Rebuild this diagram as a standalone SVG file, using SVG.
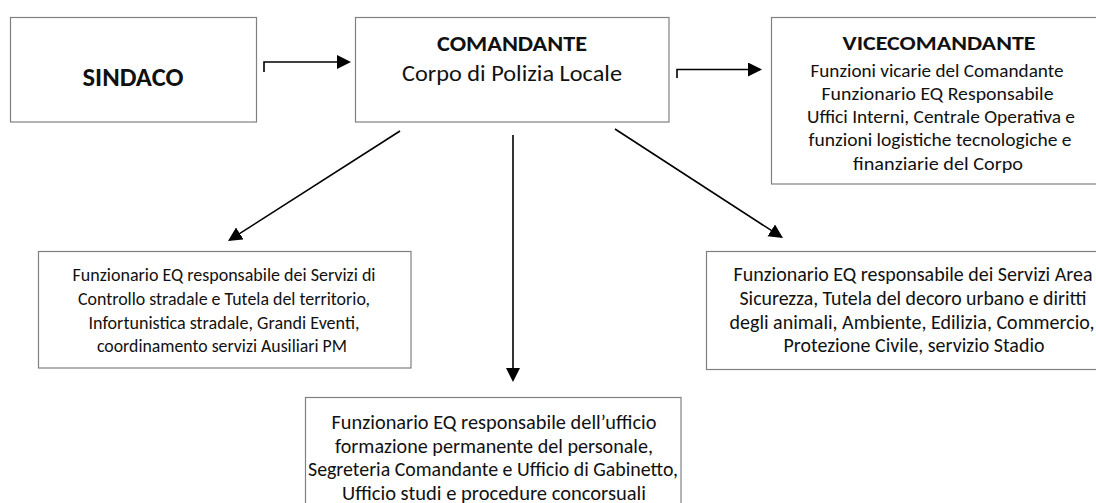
<svg xmlns="http://www.w3.org/2000/svg" width="1096" height="503" viewBox="0 0 1096 503">
  <style>
    .box { fill: #ffffff; stroke: #808080; stroke-width: 1.2; }
    .t { font-family: Carlito, Lato, "Liberation Sans", sans-serif; fill: #111111; text-anchor: middle; }
    .b { font-weight: bold; }
    .con { stroke: #000000; stroke-width: 1.6; fill: none; }
  </style>
  <defs>
    <marker id="ah" markerUnits="userSpaceOnUse" markerWidth="15" markerHeight="15" refX="12" refY="7" orient="auto">
      <path d="M0,0 L14,7 L0,14 z" fill="#000000"/>
    </marker>
  </defs>
  <rect width="1096" height="503" fill="#ffffff"/>

  <g id="sindaco">
    <rect class="box" x="10.5" y="17.5" width="246" height="104.5"/>
    <text class="t b" x="133" y="85.5" font-size="26" textLength="101" lengthAdjust="spacingAndGlyphs">SINDACO</text>
  </g>

  <g id="comandante">
    <rect class="box" x="355.5" y="17.5" width="313.5" height="104.5"/>
    <text class="t b" x="512" y="51" font-size="23" textLength="150" lengthAdjust="spacingAndGlyphs">COMANDANTE</text>
    <text class="t" x="512" y="81" font-size="23" textLength="220" lengthAdjust="spacingAndGlyphs">Corpo di Polizia Locale</text>
  </g>

  <g id="vicecomandante">
    <rect class="box" x="771.5" y="17.5" width="340" height="166.5"/>
    <text class="t b" x="939" y="50" font-size="20.5" textLength="193" lengthAdjust="spacingAndGlyphs">VICECOMANDANTE</text>
    <text class="t" x="937" y="76.5" font-size="19" textLength="253" lengthAdjust="spacingAndGlyphs">Funzioni vicarie del Comandante</text>
    <text class="t" x="937.5" y="99.5" font-size="19" textLength="232" lengthAdjust="spacingAndGlyphs">Funzionario EQ Responsabile</text>
    <text class="t" x="941" y="123" font-size="19" textLength="268" lengthAdjust="spacingAndGlyphs">Uffici Interni, Centrale Operativa e</text>
    <text class="t" x="940" y="146" font-size="19" textLength="263" lengthAdjust="spacingAndGlyphs">funzioni logistiche tecnologiche e</text>
    <text class="t" x="938" y="169.5" font-size="19" textLength="170" lengthAdjust="spacingAndGlyphs">finanziarie del Corpo</text>
  </g>

  <g id="servizi-controllo">
    <rect class="box" x="38.5" y="251.5" width="372.5" height="116.5"/>
    <text class="t" x="224" y="281" font-size="18.5" textLength="303" lengthAdjust="spacingAndGlyphs">Funzionario EQ responsabile dei Servizi di</text>
    <text class="t" x="224" y="305" font-size="18.5" textLength="292" lengthAdjust="spacingAndGlyphs">Controllo stradale e Tutela del territorio,</text>
    <text class="t" x="224" y="328.5" font-size="18.5" textLength="271" lengthAdjust="spacingAndGlyphs">Infortunistica stradale, Grandi Eventi,</text>
    <text class="t" x="222" y="352" font-size="18.5" textLength="250" lengthAdjust="spacingAndGlyphs">coordinamento servizi Ausiliari PM</text>
  </g>

  <g id="servizi-sicurezza">
    <rect class="box" x="706.5" y="251.5" width="420" height="118"/>
    <text class="t" x="913" y="280.5" font-size="19.5" textLength="359" lengthAdjust="spacingAndGlyphs">Funzionario EQ responsabile dei Servizi Area</text>
    <text class="t" x="913" y="305" font-size="19.5" textLength="347" lengthAdjust="spacingAndGlyphs">Sicurezza, Tutela del decoro urbano e diritti</text>
    <text class="t" x="912" y="328.5" font-size="19.5" textLength="365" lengthAdjust="spacingAndGlyphs">degli animali, Ambiente, Edilizia, Commercio,</text>
    <text class="t" x="914" y="352" font-size="19.5" textLength="261" lengthAdjust="spacingAndGlyphs">Protezione Civile, servizio Stadio</text>
  </g>

  <g id="ufficio-formazione">
    <rect class="box" x="305.5" y="397.5" width="375.5" height="130"/>
    <text class="t" x="494" y="428.5" font-size="19.5" textLength="325" lengthAdjust="spacingAndGlyphs">Funzionario EQ responsabile dell’ufficio</text>
    <text class="t" x="494" y="452.5" font-size="19.5" textLength="318" lengthAdjust="spacingAndGlyphs">formazione permanente del personale,</text>
    <text class="t" x="493" y="476" font-size="19.5" textLength="370" lengthAdjust="spacingAndGlyphs">Segreteria Comandante e Ufficio di Gabinetto,</text>
    <text class="t" x="494" y="499.5" font-size="19.5" textLength="304" lengthAdjust="spacingAndGlyphs">Ufficio studi e procedure concorsuali</text>
  </g>

  <g id="connectors">
    <path class="con" d="M264,72 V62 H349" marker-end="url(#ah)"/>
    <path class="con" d="M677,78 V69.5 H760" marker-end="url(#ah)"/>
    <line class="con" x1="400" y1="131" x2="229.7" y2="239.9" marker-end="url(#ah)"/>
    <line class="con" x1="513" y1="135" x2="513" y2="380" marker-end="url(#ah)"/>
    <line class="con" x1="615" y1="129" x2="781.3" y2="236.9" marker-end="url(#ah)"/>
  </g>
</svg>
